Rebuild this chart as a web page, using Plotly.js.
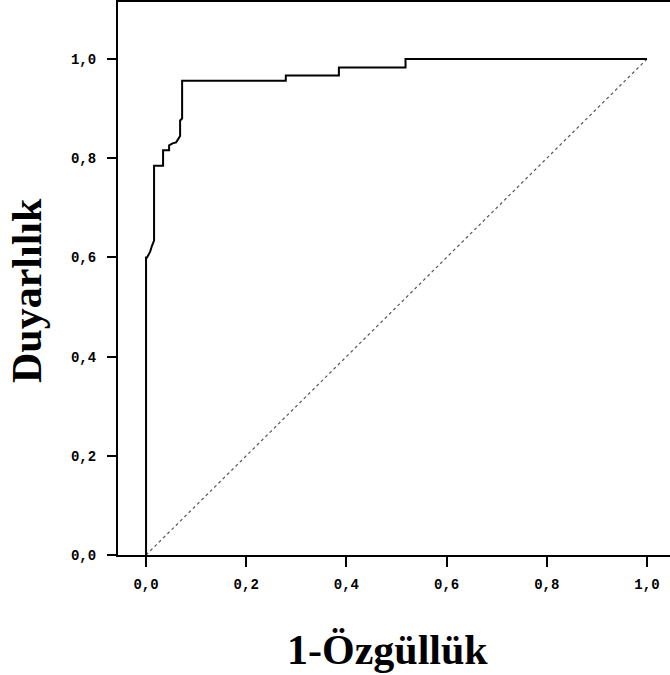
<!DOCTYPE html>
<html>
<head>
<meta charset="utf-8">
<script src="https://cdn.plot.ly/plotly-3.0.1.min.js"></script>
<style>html,body{margin:0;padding:0;background:#fff;}#chart{width:670px;height:675px;}</style>
</head>
<body>
<div id="chart"></div>
<script>
// ROC curve (1 - specificity vs sensitivity)
var fpr = [0, 0, 0.002, 0.008, 0.012, 0.016, 0.016, 0.034, 0.034, 0.046, 0.046, 0.053, 0.060, 0.068, 0.068, 0.072, 0.072, 0.279, 0.279, 0.385, 0.385, 0.518, 0.518, 1.0];
var tpr = [0, 0.600, 0.600, 0.611, 0.624, 0.634, 0.785, 0.785, 0.816, 0.816, 0.826, 0.830, 0.832, 0.845, 0.876, 0.880, 0.956, 0.956, 0.967, 0.967, 0.983, 0.983, 1.0, 1.0];
// reference diagonal
var refX = [0, 1];
var refY = [0, 1];
var tickVals = [0, 0.2, 0.4, 0.6, 0.8, 1.0];
var tickText = ["0,0", "0,2", "0,4", "0,6", "0,8", "1,0"];
var xTitle = "1-Özgüllük";
var yTitle = "Duyarlılık";

var tickFont = {family: "Liberation Mono, DejaVu Sans Mono, monospace", size: 14, color: "#000", weight: "bold"};
var titleFont = {family: "Liberation Serif, Times New Roman, serif", size: 42, color: "#000", weight: "bold"};

var traces = [
  {x: refX, y: refY, mode: "lines", type: "scatter", line: {color: "#555", width: 1.2, dash: "dot"}, hoverinfo: "skip"},
  {x: fpr, y: tpr, mode: "lines", type: "scatter", line: {color: "#000", width: 2, shape: "linear"}}
];

var layout = {
  width: 670, height: 675,
  margin: {l: 118, r: 0, t: 2, b: 120},
  paper_bgcolor: "#fff", plot_bgcolor: "#fff",
  showlegend: false,
  xaxis: {
    range: [-0.056, 1.046], tickvals: tickVals, ticktext: tickText,
    ticks: "outside", ticklen: 10, tickwidth: 2, tickcolor: "#000",
    showline: true, linecolor: "#000", linewidth: 2, mirror: true,
    showgrid: false, zeroline: false, tickfont: tickFont, ticklabelstandoff: 5
  },
  yaxis: {
    range: [0, 1.115], tickvals: tickVals, ticktext: tickText,
    ticks: "outside", ticklen: 9, tickwidth: 2, tickcolor: "#000",
    showline: true, linecolor: "#000", linewidth: 2, mirror: false,
    showgrid: false, zeroline: false, tickfont: tickFont, ticklabelstandoff: 8
  },
  annotations: [
    {text: xTitle, xref: "paper", yref: "paper", x: 0.489, y: -0.172, xanchor: "center", yanchor: "middle", showarrow: false, font: titleFont},
    {text: yTitle, xref: "paper", yref: "paper", x: -0.165, y: 0.479, xanchor: "center", yanchor: "middle", textangle: -90, showarrow: false, font: titleFont}
  ]
};

Plotly.newPlot("chart", traces, layout, {displayModeBar: false, staticPlot: true});
</script>
</body>
</html>
